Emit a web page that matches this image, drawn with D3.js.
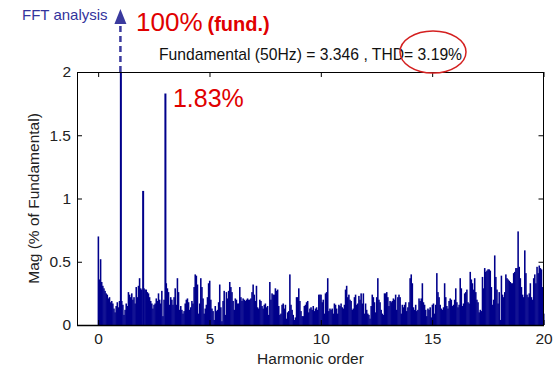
<!DOCTYPE html>
<html>
<head>
<meta charset="utf-8">
<script src="https://cdn.jsdelivr.net/npm/d3@7"></script>
<style>
  html, body { margin: 0; padding: 0; background: #fff; }
  svg { display: block; font-family: Arial, "Liberation Sans", sans-serif; }
</style>
</head>
<body>
<svg id="chart" width="554" height="374"></svg>
<script>
// harmonic order axis / magnitude axis ticks
const xTicks = [0, 5, 10, 15, 20];
const yTicks = [0, 0.5, 1, 1.5, 2];
const binStep = 0.05; // spectrum resolution in harmonic order

// Mag (% of Fundamental), one row per harmonic order (n.00 ... n.95)
const mag = [
  0.70, 0.36, 0.52, 0.34, 0.31, 0.29, 0.27, 0.25, 0.24, 0.21, 0.22, 0.18, 0.19, 0.17, 0.13, 0.10, 0.15, 0.18, 0.14, 0.19,
  100,  0.19, 0.16, 0.08, 0.12, 0.17, 0.15, 0.26, 0.24, 0.22, 0.25, 0.20, 0.22, 0.17, 0.30, 0.22, 0.31, 0.37, 0.29, 0.28,
  1.06, 0.29, 0.28, 0.28, 0.26, 0.25, 0.22, 0.19, 0.17, 0.13, 0.16, 0.17, 0.21, 0.19, 0.25, 0.20, 0.17, 0.27, 0.07, 0.20,
  1.83, 0.33, 0.29, 0.26, 0.16, 0.22, 0.20, 0.16, 0.22, 0.29, 0.16, 0.37, 0.26, 0.12, 0.15, 0.12, 0.09, 0.11, 0.17, 0.20,
  0.21, 0.18, 0.12, 0.14, 0.19, 0.17, 0.30, 0.40, 0.39, 0.32, 0.09, 0.17, 0.37, 0.30, 0.21, 0.09, 0.13, 0.16, 0.22, 0.33,
  0.35, 0.20, 0.13, 0.11, 0.04, 0.15, 0.11, 0.12, 0.18, 0.32, 0.14, 0.03, 0.19, 0.27, 0.08, 0.26, 0.21, 0.27, 0.34, 0.30,
  0.26, 0.19, 0.12, 0.21, 0.20, 0.17, 0.17, 0.30, 0.22, 0.19, 0.21, 0.20, 0.19, 0.20, 0.21, 0.20, 0.20, 0.21, 0.26, 0.32,
  0.24, 0.19, 0.31, 0.14, 0.13, 0.20, 0.19, 0.15, 0.13, 0.16, 0.17, 0.14, 0.15, 0.08, 0.34, 0.20, 0.25, 0.24, 0.24, 0.29,
  0.27, 0.28, 0.15, 0.08, 0.09, 0.16, 0.17, 0.13, 0.16, 0.05, 0.10, 0.11, 0.40, 0.16, 0.12, 0.08, 0.04, 0.06, 0.22, 0.22,
  0.29, 0.19, 0.11, 0.07, 0.07, 0.15, 0.16, 0.18, 0.19, 0.10, 0.13, 0.14, 0.12, 0.15, 0.11, 0.13, 0.14, 0.12, 0.24, 0.24,
  0.24, 0.18, 0.20, 0.09, 0.25, 0.26, 0.37, 0.11, 0.13, 0.12, 0.13, 0.09, 0.17, 0.16, 0.13, 0.09, 0.16, 0.15, 0.17, 0.14,
  0.13, 0.16, 0.28, 0.31, 0.22, 0.24, 0.20, 0.19, 0.12, 0.13, 0.22, 0.24, 0.16, 0.17, 0.23, 0.20, 0.25, 0.17, 0.25, 0.09,
  0.17, 0.12, 0.09, 0.08, 0.05, 0.15, 0.24, 0.22, 0.18, 0.10, 0.22, 0.37, 0.20, 0.18, 0.12, 0.09, 0.08, 0.25, 0.25, 0.26,
  0.22, 0.15, 0.19, 0.18, 0.19, 0.21, 0.20, 0.24, 0.12, 0.22, 0.24, 0.22, 0.09, 0.16, 0.14, 0.16, 0.18, 0.11, 0.14, 0.18,
  0.37, 0.40, 0.33, 0.14, 0.12, 0.16, 0.11, 0.12, 0.21, 0.19, 0.21, 0.33, 0.18, 0.16, 0.12, 0.07, 0.13, 0.12, 0.14, 0.06,
  0.16, 0.17, 0.09, 0.16, 0.41, 0.26, 0.22, 0.16, 0.13, 0.12, 0.14, 0.33, 0.22, 0.15, 0.13, 0.19, 0.21, 0.20, 0.15, 0.16,
  0.20, 0.29, 0.18, 0.14, 0.16, 0.37, 0.29, 0.15, 0.17, 0.25, 0.26, 0.28, 0.18, 0.17, 0.42, 0.36, 0.33, 0.28, 0.37, 0.26,
  0.20, 0.18, 0.10, 0.12, 0.11, 0.38, 0.29, 0.45, 0.42, 0.43, 0.44, 0.44, 0.43, 0.30, 0.16, 0.20, 0.55, 0.38, 0.28, 0.17,
  0.26, 0.04, 0.39, 0.24, 0.22, 0.26, 0.40, 0.37, 0.36, 0.35, 0.34, 0.33, 0.33, 0.41, 0.42, 0.45, 0.45, 0.74, 0.46, 0.37,
  0.30, 0.24, 0.22, 0.59, 0.41, 0.24, 0.22, 0.25, 0.33, 0.22, 0.20, 0.37, 0.40, 0.33, 0.46, 0.41, 0.47, 0.45, 0.44, 0.30,
  0.09
];

const fundHarmonic = 1;
const thirdHarmonic = 3;
const titleText = 'Fundamental (50Hz) = 3.346 , THD= 3.19%';
const fundNote = ['100%', '(fund.)'];
const thirdNote = '1.83%';

const margin = {top: 72, right: 10, bottom: 49, left: 77};
const svg = d3.select('#chart');
const width = 554 - margin.left - margin.right;
const height = 374 - margin.top - margin.bottom;

const x = d3.scaleLinear().domain([-0.95, 20]).range([0, width - 0.5]);
const y = d3.scaleLinear().domain([0, 2]).range([height, 0]).clamp(true);

const chart = svg.append('g')
  .attr('transform', 'translate(' + margin.left + ',' + margin.top + ')');

const data = mag.map((v, i) => ({h: i * binStep, v: v}));
const bw = x(binStep) - x(0);

chart.append('g')
  .selectAll('rect')
  .data(data)
  .enter().append('rect')
  .attr('x', d => x(d.h) - bw / 2)
  .attr('y', d => y(d.v))
  .attr('width', d => d.v > 1 ? bw + 0.9 : bw + 0.45)
  .attr('height', d => height - y(d.v))
  .style('fill', '#00008b');

// axes, ticks pointing inward like matlab
const axisFont = g => g.selectAll('text')
  .style('font-size', '15.5px')
  .style('fill', '#222')
  .style('font-family', 'Arial, "Liberation Sans", sans-serif');

chart.append('g')
  .attr('transform', 'translate(0,' + height + ')')
  .call(d3.axisBottom(x).tickValues(xTicks).tickSizeInner(-5).tickSizeOuter(0).tickPadding(8).tickFormat(d3.format('~g')))
  .call(g => g.select('.domain').remove())
  .call(axisFont);

chart.append('g')
  .call(d3.axisTop(x).tickValues(xTicks).tickSizeInner(-5).tickSizeOuter(0).tickFormat(''))
  .call(g => g.select('.domain').remove());

chart.append('g')
  .call(d3.axisLeft(y).tickValues(yTicks).tickSizeInner(-5).tickSizeOuter(0).tickPadding(6).tickFormat(d3.format('~g')))
  .call(g => g.select('.domain').remove())
  .call(axisFont);

chart.append('g')
  .attr('transform', 'translate(' + (width - 0.5) + ',0)')
  .call(d3.axisRight(y).tickValues(yTicks).tickSizeInner(-5).tickSizeOuter(0).tickFormat(''))
  .call(g => g.select('.domain').remove());

chart.append('rect')
  .attr('x', 0.5)
  .attr('y', 0.5)
  .attr('width', width - 1)
  .attr('height', height)
  .style('fill', 'none')
  .style('stroke', '#000')
  .style('stroke-width', 1);

chart.append('line')
  .attr('x1', 0).attr('x2', width)
  .attr('y1', height + 0.5).attr('y2', height + 0.5)
  .style('stroke', '#000').style('stroke-width', 1.5);

// axis labels
svg.append('text')
  .attr('x', margin.left + width / 2)
  .attr('y', 364)
  .attr('text-anchor', 'middle')
  .style('font-size', '15.5px')
  .style('fill', '#222')
  .text('Harmonic order');

svg.append('text')
  .attr('transform', 'translate(39,' + (margin.top + height / 2) + ') rotate(-90)')
  .attr('text-anchor', 'middle')
  .style('font-size', '15.5px')
  .style('fill', '#222')
  .text('Mag (% of Fundamental)');

// title
svg.append('text')
  .attr('x', margin.left + width / 2)
  .attr('y', 60)
  .attr('text-anchor', 'middle')
  .style('font-size', '15.7px')
  .style('fill', '#111')
  .text(titleText);

svg.append('ellipse')
  .attr('cx', 433)
  .attr('cy', 52)
  .attr('rx', 33)
  .attr('ry', 21)
  .style('fill', 'none')
  .style('stroke', '#d42020')
  .style('stroke-width', 1.5);

// annotations
svg.append('text')
  .attr('x', 22)
  .attr('y', 20)
  .style('font-size', '15px')
  .style('fill', '#33339c')
  .text('FFT analysis');

const ax = margin.left + x(fundHarmonic);
svg.append('line')
  .attr('x1', ax).attr('x2', ax)
  .attr('y1', margin.top).attr('y2', 22)
  .style('stroke', '#3a3a9e')
  .style('stroke-width', 2.5)
  .style('stroke-dasharray', '6,4');

svg.append('path')
  .attr('d', 'M' + ax + ',9 L' + (ax - 6) + ',24 L' + (ax + 6) + ',24 Z')
  .style('fill', '#3a3a9e');

const fundLabel = svg.append('text')
  .attr('x', 136)
  .attr('y', 31)
  .style('fill', '#e00000');
fundLabel.append('tspan')
  .style('font-size', '26px')
  .text(fundNote[0]);
fundLabel.append('tspan')
  .attr('dx', 5)
  .style('font-size', '20px')
  .style('font-weight', 'bold')
  .text(fundNote[1]);

svg.append('text')
  .attr('x', margin.left + x(thirdHarmonic) + 8)
  .attr('y', 107)
  .style('font-size', '25px')
  .style('fill', '#e00000')
  .text(thirdNote);
</script>
</body>
</html>
